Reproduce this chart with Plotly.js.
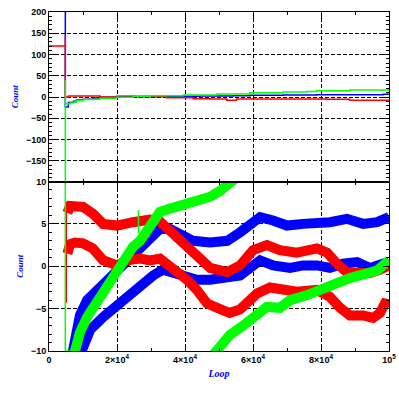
<!DOCTYPE html>
<html><head><meta charset="utf-8">
<script src="https://cdn.plot.ly/plotly-3.0.1.min.js"></script>
<style>html,body{margin:0;padding:0;background:#fff}#c{width:399px;height:399px}</style>
</head><body><div id="c"></div>
<script>
// ---- data (x in loop units) ----
// top panel: running means
const topBlueX = [4800, 4800, 5200, 5700, 6200, 7200, 8100, 10100, 13000, 15000, 19900, 24800, 34600, 44400, 54200, 59100, 68900, 78700, 98300, 100000];
const topBlueY = [400, -23.5, -23.5, -13, -13, -10, -7, -5, -2.4, -0.8, 1.6, 0.8, 1.6, 2.4, 3, 4, 4.7, 5.5, 6.3, 7];
const topRedX = [0, 4800, 4800, 4800, 5200, 5700, 10100, 15000, 19900, 24800, 30700, 34600, 42400, 47400, 52300, 55200, 68900, 76800, 81700, 88500, 98300, 100000];
const topRedY = [120, 120, 145, 0, 0, 2.4, 2.4, 0, -0.8, 1.6, 1.6, -1.6, -3.9, -4.7, -7.8, -4.7, -4.7, -4.5, -5.5, -7.8, -7.8, -5.5];
const topGreenX = [4800, 4800, 4800, 5200, 6200, 8100, 10100, 13000, 15000, 19900, 24800, 29700, 39500, 49300, 59100, 68900, 75800, 78700, 88500, 100000];
const topGreenY = [40, -400, -16, -16, -12, -8, -6, -5.5, -3, -0.8, 1.6, 3, 4.7, 7, 10, 11.8, 13, 14.9, 16.5, 19.6];

// bottom panel: bands
const red1X = [5400, 6200, 10000, 12900, 15900, 20000, 24700, 29700, 32600, 35600, 39400, 44400, 47400, 52400, 56200, 60000, 64100, 67900, 72900, 78800, 81800, 84700, 87600, 90600, 94400, 97400, 100000];
const red1Y = [6.3, 7.1, 7.0, 6.2, 5.0, 4.8, 5.2, 5.5, 5.3, 4.2, 2.5, 0.7, -0.2, -0.7, 0.1, 1.9, 2.5, 1.9, 1.6, 2.1, 1.6, 0.3, -0.7, -0.8, -0.8, -0.4, 0.1];
const red2X = [5400, 6200, 7600, 10000, 12900, 15900, 20000, 22900, 26800, 29700, 32600, 34700, 37600, 40600, 43500, 46500, 51200, 53200, 56200, 59100, 61200, 65000, 68800, 72900, 78800, 82600, 85600, 88500, 92400, 95300, 97400, 98800, 100000];
const red2Y = [1.5, 2.6, 2.8, 2.7, 2.1, 0.7, 0.1, 0.7, 0.9, 0.7, 0.9, 0.3, -0.7, -1.6, -2.8, -4.4, -5.2, -5.5, -5.1, -4.2, -3.2, -2.5, -2.8, -3.0, -2.8, -3.6, -4.9, -5.8, -5.8, -6.1, -5.5, -4.4, -4.5];
const blue1X = [6800, 7600, 9100, 11200, 15000, 17900, 20000, 23800, 27600, 30600, 32600, 35600, 39400, 42400, 47400, 52400, 56200, 59100, 62100, 65900, 70000, 74700, 78800, 82600, 87600, 92400, 96500, 100000];
const blue1Y = [-10.5, -8.5, -5.8, -4.0, -2.5, -1.3, -0.4, 1.3, 2.8, 3.9, 4.4, 4.4, 3.6, 3.0, 2.8, 3.0, 4.0, 4.8, 5.8, 5.4, 4.8, 5.0, 5.0, 5.2, 5.6, 5.0, 5.2, 5.8];
const blue2X = [9100, 12100, 15900, 20000, 23800, 27600, 30600, 33500, 36500, 39400, 43500, 47400, 52400, 56200, 59100, 62100, 65900, 70900, 74700, 78800, 82600, 86500, 90600, 94400, 98200, 100000];
const blue2Y = [-10.5, -7.5, -6.0, -4.6, -3.2, -1.9, -1.1, -0.4, -0.8, -1.2, -1.6, -1.6, -1.4, -1.1, -0.2, 0.7, 0.1, -0.2, 0.1, 0.1, -0.2, 0.3, 0.5, -0.2, 0.3, 0.5];
const green1X = [7100, 8200, 9100, 11200, 15000, 18800, 21800, 24700, 26800, 28800, 30600, 32600, 35600, 39400, 43500, 47400, 50300, 53200, 56200];
const green1Y = [-10.8, -9.0, -7.8, -6.0, -3.6, -1.6, 0.7, 2.3, 3.0, 4.2, 5.4, 6.4, 6.8, 7.2, 7.8, 8.2, 8.9, 9.7, 10.8];
const green2X = [48200, 51200, 53200, 57100, 60000, 64100, 67900, 70900, 75900, 80600, 84700, 88500, 92400, 96500, 100000];
const green2Y = [-10.5, -8.8, -8.1, -7.0, -6.0, -4.8, -4.9, -4.0, -3.4, -2.8, -2.0, -1.4, -1.1, -0.5, 0.7];
// thin start transients and spike in bottom panel
const redStartX = [5000, 5000, 5400];
const redStartY = [-4.3, 6.8, 6.3];
const spikeX = [4800, 4800, 7100];
const spikeY = [40, -10, -10];
const glitchX = [26300, 26300];
const glitchY = [3.9, 6.6];

// ticks
const xTickVals = [0, 20000, 40000, 60000, 80000, 100000];
const xTickText = ['0', '2×10<sup>4</sup>', '4×10<sup>4</sup>', '6×10<sup>4</sup>', '8×10<sup>4</sup>', '10<sup>5</sup>'];
const topYTicks = [-150, -100, -50, 0, 50, 100, 150, 200];
const botYTicks = [-10, -5, 0, 5, 10];

const RED = '#ff0000', BLUE = '#0000ff', GREEN = '#00ff00';
const BW = 10;
const traces = [
  {x: topBlueX, y: topBlueY, xaxis: 'x2', yaxis: 'y2', mode: 'lines', line: {color: BLUE, width: 1.5, shape: 'hv'}},
  {x: topRedX, y: topRedY, xaxis: 'x2', yaxis: 'y2', mode: 'lines', line: {color: RED, width: 1.5, shape: 'hv'}},
  {x: topGreenX, y: topGreenY, xaxis: 'x2', yaxis: 'y2', mode: 'lines', line: {color: GREEN, width: 1.5, shape: 'hv'}},
  {x: blue1X, y: blue1Y, mode: 'lines', line: {color: BLUE, width: BW}},
  {x: blue2X, y: blue2Y, mode: 'lines', line: {color: BLUE, width: BW}},
  {x: redStartX, y: redStartY, mode: 'lines', line: {color: RED, width: 2}},
  {x: red1X, y: red1Y, mode: 'lines', line: {color: RED, width: BW}},
  {x: red2X, y: red2Y, mode: 'lines', line: {color: RED, width: BW}},
  {x: green1X, y: green1Y, mode: 'lines', line: {color: GREEN, width: BW}},
  {x: green2X, y: green2Y, mode: 'lines', line: {color: GREEN, width: BW}},
  {x: spikeX, y: spikeY, mode: 'lines', line: {color: GREEN, width: 1.5}},
  {x: glitchX, y: glitchY, mode: 'lines', line: {color: GREEN, width: 1.5}}
];

const tickFont = {family: 'Liberation Sans, Arial, sans-serif', size: 9, color: '#000', weight: 'bold'};
const titleFont = {family: 'Liberation Serif, Times New Roman, serif', size: 10, color: BLUE, weight: 'bold', style: 'italic'};
const common = {
  showline: true, linecolor: '#000', linewidth: 1, mirror: 'ticks',
  ticks: 'inside', ticklen: 6, tickcolor: '#000', tickwidth: 1,
  showgrid: true, gridcolor: '#000', gridwidth: 1, griddash: '4px,2px',
  zeroline: false, tickfont: tickFont
};
const layout = {
  width: 399, height: 399,
  margin: {l: 49, r: 10, t: 12, b: 48},
  paper_bgcolor: '#fff', plot_bgcolor: '#fff',
  showlegend: false,
  xaxis: Object.assign({}, common, {
    domain: [0, 1], range: [0, 100000], anchor: 'y',
    tickmode: 'array', tickvals: xTickVals, ticktext: xTickText,
    minor: {tickmode: 'linear', tick0: 0, dtick: 10000, ticks: 'inside', ticklen: 3, tickcolor: '#000', showgrid: false},
    title: {text: '<b><i>Loop</i></b>', font: titleFont, standoff: 6}
  }),
  xaxis2: Object.assign({}, common, {
    domain: [0, 1], range: [0, 100000], anchor: 'y2', matches: 'x',
    tickmode: 'array', tickvals: xTickVals, ticktext: xTickText, showticklabels: false,
    minor: {tickmode: 'linear', tick0: 0, dtick: 10000, ticks: 'inside', ticklen: 3, tickcolor: '#000', showgrid: false}
  }),
  yaxis: Object.assign({}, common, {
    domain: [0, 0.5], range: [-10, 10], anchor: 'x',
    tickmode: 'array', tickvals: botYTicks,
    minor: {tickmode: 'linear', tick0: 0, dtick: 1, ticks: 'inside', ticklen: 3, tickcolor: '#000', showgrid: false},
    title: {text: '<b><i>Count</i></b>', font: Object.assign({}, titleFont, {size: 9}), standoff: 5}
  }),
  yaxis2: Object.assign({}, common, {
    domain: [0.5, 1], range: [-198.8, 200], anchor: 'x2',
    tickmode: 'array', tickvals: topYTicks,
    minor: {tickmode: 'linear', tick0: 0, dtick: 10, ticks: 'inside', ticklen: 3, tickcolor: '#000', showgrid: false},
    title: {text: '<b><i>Count</i></b>', font: Object.assign({}, titleFont, {size: 9}), standoff: 5}
  })
};
Plotly.newPlot('c', traces, layout, {staticPlot: true, displayModeBar: false});
</script>
</body></html>
